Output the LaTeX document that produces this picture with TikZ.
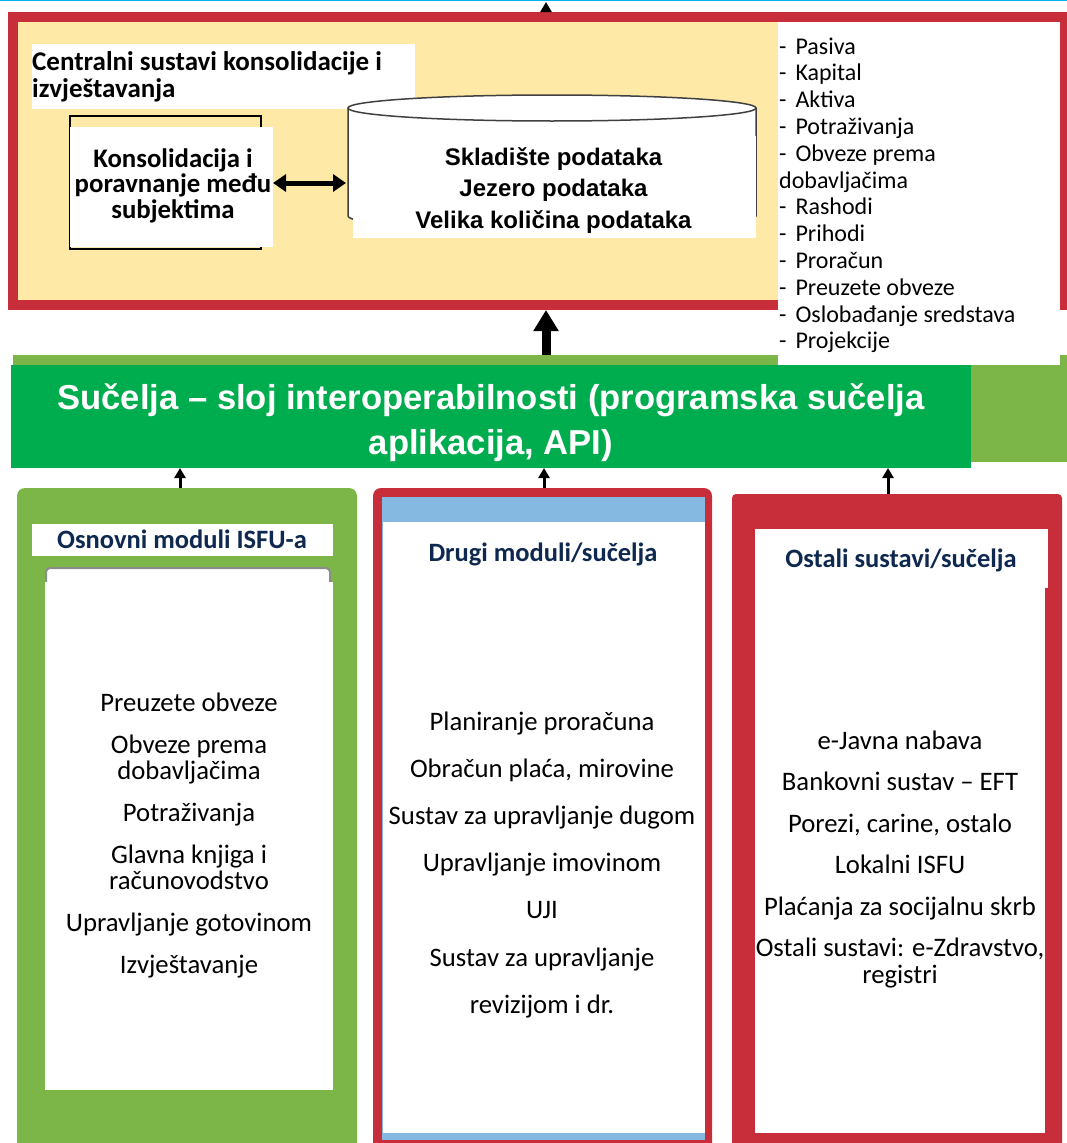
\documentclass[tikz,border=0pt]{standalone}
\usepackage{fontspec}
\setmainfont{Carlito}
\newfontfamily\arialfont{Liberation Sans}
\usetikzlibrary{arrows.meta}

\definecolor{framered}{RGB}{200,45,58}
\definecolor{paleyellow}{RGB}{255,233,167}
\definecolor{leafgreen}{RGB}{125,182,72}
\definecolor{bargreen}{RGB}{0,173,78}
\definecolor{skyblue}{RGB}{133,185,225}
\definecolor{headnavy}{RGB}{14,40,80}
\definecolor{topcyan}{RGB}{0,176,240}

\tikzset{
  redframe/.style={draw=framered, line width=10pt, fill=paleyellow, anchor=north west, inner sep=0pt, outer sep=5pt},
  patch/.style={fill=white, anchor=north west, inner sep=0pt, outer sep=0pt},
  block/.style={anchor=north west, inner sep=0pt, outer sep=0pt},
  boldtxt/.style={font=\fontsize{27}{26.7}\selectfont\bfseries, inner sep=0pt},
  head/.style={font=\fontsize{26.5}{26}\selectfont\bfseries, text=headnavy, anchor=base, inner sep=0pt},
  item/.style={font=\fontsize{26.7}{26}\selectfont, align=center, anchor=base, inner sep=0pt},
  upthick/.style={-{Triangle[length=21pt,width=24pt]}, line width=9pt},
  upthin/.style={-{Triangle[length=10pt,width=11pt]}, line width=3pt},
  twoway/.style={{Triangle[length=13pt,width=17pt]}-{Triangle[length=13pt,width=17pt]}, line width=5pt},
}

\begin{document}
\begin{tikzpicture}[x=1pt,y=-1pt]
\useasboundingbox (0,0) rectangle (1067,1143);
\clip (0,0) rectangle (1067,1143);
\fill[topcyan] (0,0) rectangle (1067,1.3);

\node[redframe, minimum width=1052pt, minimum height=288pt] at (8,12) (cen) {};
\node[patch, minimum width=383pt, minimum height=65pt] at (32,44) (ttl) {};
\node[boldtxt, align=left, anchor=base west] at (32,97.4) (ttlt) {Centralni sustavi konsolidacije i\\izvještavanja};

\node[block, draw, line width=1.5pt, minimum width=191pt, minimum height=133pt] at (70,116) (kon) {};
\node[patch, minimum width=203pt, minimum height=120pt] at (70,127) (kp) {};
\node[boldtxt, font=\fontsize{26.8}{25.7}\selectfont\bfseries, align=center, anchor=base] at (173,218.4) (kont) {Konsolidacija i\\poravnanje među\\subjektima};

\fill[white] (348,108) -- (348,216) .. controls (348,233.3) and (756,233.3) .. (756,216) -- (756,108) -- cycle;
\draw[black!75, line width=1.5pt] (348,108) -- (348,216) .. controls (348,233.3) and (756,233.3) .. (756,216) -- (756,108);
\filldraw[fill=white, draw=black!75, line width=1.5pt] (552,108) ellipse [x radius=204, y radius=13];
\node[patch, minimum width=403pt, minimum height=102pt] at (353,136) (dw) {};
\node[font=\arialfont\fontsize{24}{31.5}\selectfont\bfseries, align=center, anchor=base, inner sep=0pt] at (553.5,228) (dwt) {Skladište podataka\\Jezero podataka\\Velika količina podataka};

\coordinate (cw) at (346,183);
\draw[twoway] (kp.east |- cw) -- (cw);

\node[block, fill=leafgreen, minimum width=1060pt, minimum height=107pt] at (13,355) (band) {};
\node[block, fill=bargreen, minimum width=960pt, minimum height=103pt] at (11,365) (api) {};
\node[font=\arialfont\fontsize{34.6}{45}\selectfont\bfseries, text=white, align=center, anchor=base, inner sep=0pt] at (491,454) (apit) {Sučelja – sloj interoperabilnosti (programska sučelja\\aplikacija, API)};

\node[patch, minimum width=282pt, minimum height=343pt] at (778,22) (lst) {};
\node[font=\fontsize{24}{26.8}\selectfont, align=left, anchor=base west, inner sep=0pt] at (779,348.8) (lstt) {-\hspace{9pt}Pasiva\\-\hspace{9pt}Kapital\\-\hspace{9pt}Aktiva\\-\hspace{9pt}Potraživanja\\-\hspace{9pt}Obveze prema\\dobavljačima\\-\hspace{9pt}Rashodi\\-\hspace{9pt}Prihodi\\-\hspace{9pt}Proračun\\-\hspace{9pt}Preuzete obveze\\-\hspace{9pt}Oslobađanje sredstava\\-\hspace{9pt}Projekcije};

\coordinate (up) at (546,2);
\draw[upthin] (cen.north -| up) -- (up);
\draw[upthick] (band.north -| up) -- (cen.south -| up);

\node[block, fill=leafgreen, rounded corners=8pt, minimum width=340pt, minimum height=680pt] at (17,488) (m1) {};
\node[patch, minimum width=301pt, minimum height=32pt] at (32,524) (h1) {};
\node[head] at (182,548) (h1t) {Osnovni moduli ISFU-a};
\node[block, draw=black!45, line width=2pt, fill=white, rounded corners=4pt, minimum width=284pt, minimum height=432pt] at (46,568) (g1) {};
\node[patch, minimum width=288pt, minimum height=508pt] at (45,582) (b1) {};
\node[item] at (189,973) (t1) {Preuzete obveze\\[16pt]Obveze prema\\dobavljačima\\[16pt]Potraživanja\\[16pt]Glavna knjiga i\\računovodstvo\\[16pt]Upravljanje gotovinom\\[16pt]Izvještavanje};

\node[block, fill=framered, rounded corners=8pt, minimum width=339pt, minimum height=680pt] at (373,488) (m2) {};
\node[block, fill=skyblue, minimum width=323pt, minimum height=643pt] at (382,497) (s2) {};
\node[patch, minimum width=322pt, minimum height=611pt] at (383,522) (b2) {};
\node[head] at (543,561) (h2t) {Drugi moduli/sučelja};
\node[item, font=\fontsize{26.7}{47.2}\selectfont] at (542,1013.2) (t2) {Planiranje proračuna\\Obračun plaća, mirovine\\Sustav za upravljanje dugom\\Upravljanje imovinom\\UJI\\Sustav za upravljanje\\revizijom i dr.};

\node[block, fill=framered, rounded corners=4pt, minimum width=330pt, minimum height=670pt] at (732,494) (m3) {};
\node[patch, minimum width=293pt, minimum height=59pt] at (755,529) (h3) {};
\node[patch, minimum width=290pt, minimum height=545pt] at (755,588) (b3) {};
\node[head] at (901,567) (h3t) {Ostali sustavi/sučelja};
\node[item, font=\fontsize{26.7}{27}\selectfont] at (900,983.5) (t3) {e-Javna nabava\\[14.5pt]Bankovni sustav – EFT\\[14.5pt]Porezi, carine, ostalo\\[14.5pt]Lokalni ISFU\\[14.5pt]Plaćanja za socijalnu skrb\\[14.5pt]Ostali sustavi: e-Zdravstvo,\\registri};

\coordinate (pa) at (180,0);
\coordinate (pb) at (544,0);
\coordinate (pc) at (888,0);
\draw[upthin] (m1.north -| pa) -- (api.south -| pa);
\draw[upthin] (m2.north -| pb) -- (api.south -| pb);
\draw[upthin] (m3.north -| pc) -- (api.south -| pc);
\end{tikzpicture}
\end{document}
